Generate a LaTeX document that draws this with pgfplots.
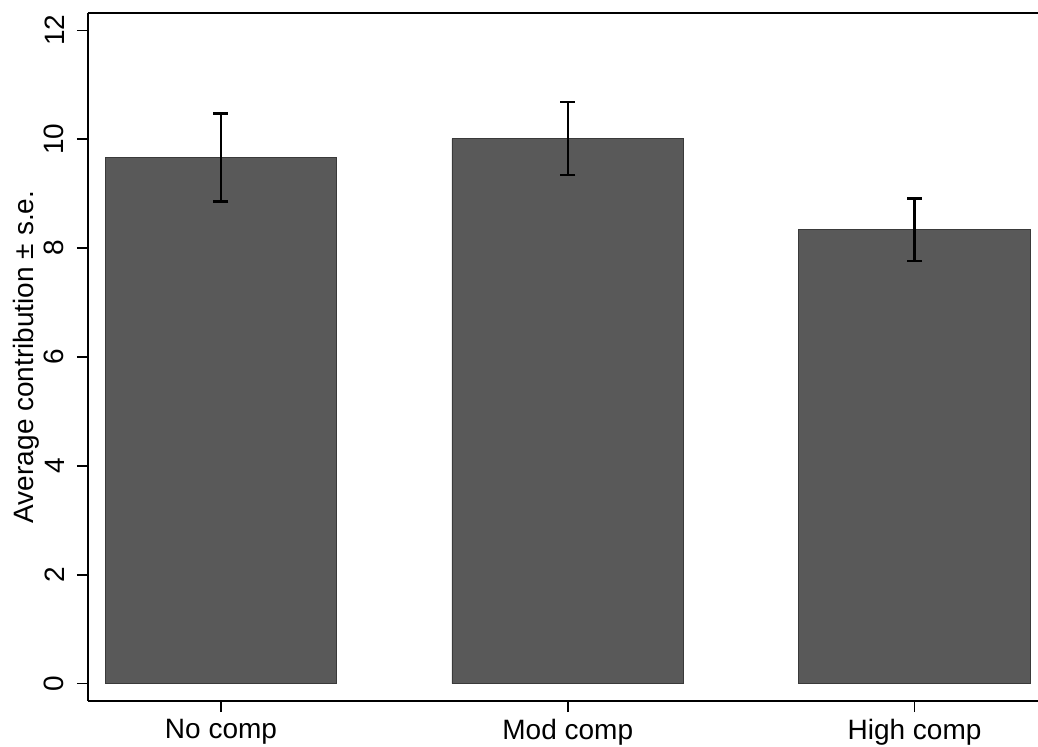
\documentclass[border=0pt]{standalone}
\usepackage{fontspec}
\setmainfont{Liberation Sans}
\usepackage{pgfplots}
\pgfplotsset{compat=1.18}
\definecolor{barfill}{HTML}{595959}
\definecolor{baredge}{HTML}{3A3A3A}
\begin{document}
\fontsize{14}{16}\selectfont
\begin{tikzpicture}
\begin{axis}[
  scale only axis, width=475pt, height=344pt,
  xmin=-0.3835, xmax=2.356, ymin=-0.32, ymax=12.32,
  axis x line*=bottom, axis y line*=left,
  axis line style={line width=0.8pt, -},
  tick style={line width=0.8pt, black},
  tick align=outside, major tick length=5.5pt,
  xtick={0,1,2}, xticklabels={No comp, Mod comp, High comp},
  xticklabel style={yshift=1.5pt},
  ytick={0,2,4,6,8,10,12},
  yticklabel style={xshift=-1.5pt, rotate=90, anchor=south},
  ylabel={Average contribution ± s.e.},
  ylabel shift=-7pt,
  ylabel style={font=\fontsize{14}{16}\selectfont},
  ticklabel style={font=\fontsize{14}{16}\selectfont},
  /pgf/number format/assume math mode=true,
  clip=false,
]
\addplot[ybar, bar width=0.668, fill=barfill, draw=baredge, line width=0.4pt,
  error bars/.cd, y dir=both, y explicit,
  error bar style={line width=1.15pt, black},
  error mark options={rotate=90, mark size=3.75pt, line width=1.15pt, black}]
  coordinates {
  (0,9.665) +- (0,0.81)
  (1,10.01) +- (0,0.67)
  (2,8.34) +- (0,0.57)
  };
\draw[line width=0.8pt] (rel axis cs:0,1) -- (rel axis cs:1,1);
\coordinate (sw) at (rel axis cs:0,0);
\coordinate (ne) at (rel axis cs:1,1);
\end{axis}
\pgfresetboundingbox
\path[use as bounding box] ([xshift=-44pt,yshift=-22.5pt]sw) rectangle ([yshift=6.5pt]ne);
\end{tikzpicture}
\end{document}
